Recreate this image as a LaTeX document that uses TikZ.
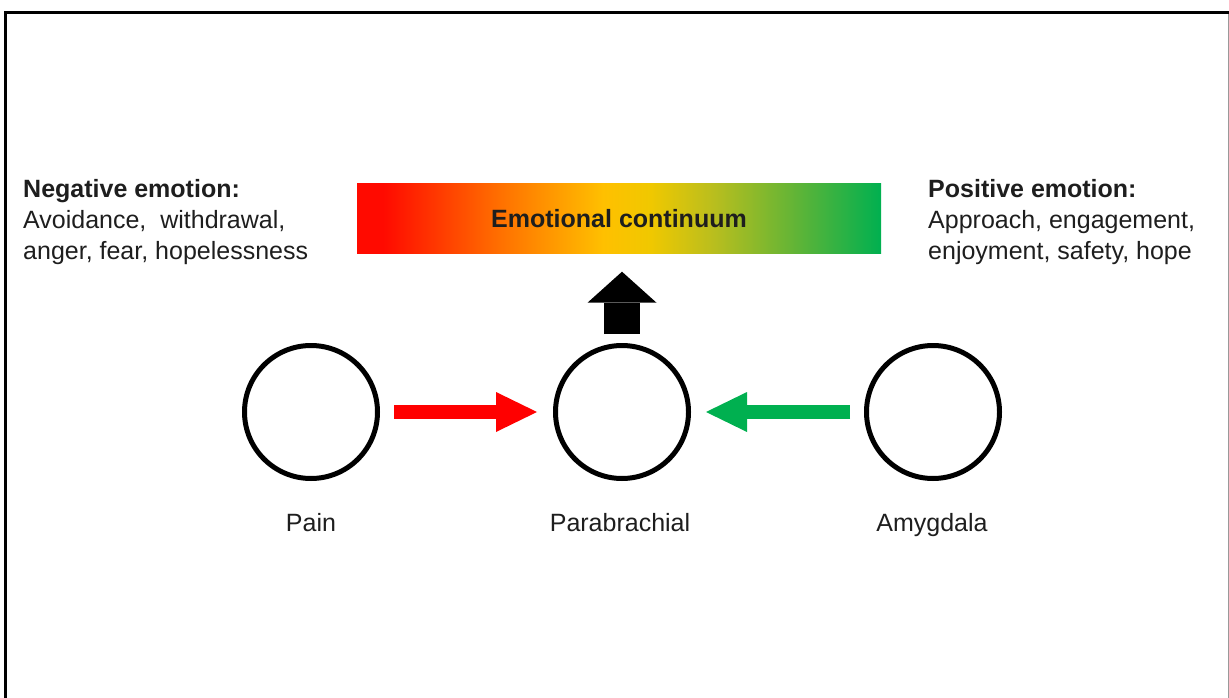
\documentclass[tikz,border=0pt]{standalone}
\usepackage{fontspec}
\setmainfont{Liberation Sans}
\usetikzlibrary{arrows.meta,positioning}
\definecolor{hotred}{HTML}{FF0000}
\definecolor{calmgreen}{HTML}{00B050}
\definecolor{inkgrey}{HTML}{1E1E1E}
\definecolor{cRed}{RGB}{255,10,0}
\definecolor{cOrange}{RGB}{255,115,0}
\definecolor{cAmber}{RGB}{255,192,0}
\definecolor{cYellow}{RGB}{240,200,0}
\definecolor{cOlive}{RGB}{185,190,30}
\definecolor{cLime}{RGB}{95,180,55}
\definecolor{cGreen}{RGB}{0,176,80}
% only the middle half (25bp--75bp) of a declared shading fills the node
\pgfdeclarehorizontalshading{continuum}{100bp}{color(0bp)=(cRed); color(27.5bp)=(cRed);
  color(39bp)=(cOrange); color(48.5bp)=(cAmber); color(53bp)=(cYellow);
  color(59bp)=(cOlive); color(67bp)=(cLime); color(75bp)=(cGreen); color(100bp)=(cGreen)}

\begin{document}
\begin{tikzpicture}[x=1pt,y=-1pt,font=\fontsize{25}{31}\selectfont,text=inkgrey,
  ring/.style={circle,draw=black,line width=5pt,minimum size=133pt,inner sep=0pt},
  side/.style={align=left,inner sep=0pt,anchor=base west},
  lbl/.style={inner sep=0pt,anchor=base},
  push/.style={draw=hotred,line width=14pt,shorten <=14pt,shorten >=16pt,
               -{Triangle[length=41pt,width=40pt,line width=0pt]}},
  pull/.style={push,draw=calmgreen,shorten >=15pt},
  lift/.style={draw=black,line width=36pt,shorten <=9pt,shorten >=18pt,
               -{Triangle[length=31pt,width=69pt,line width=0pt]}}]

\useasboundingbox (0,0) rectangle (1229,698);
% frame of the original screenshot (no bottom edge)
\draw[line width=3pt] (5,698) -- (5,12.5) -- (1229,12.5);
\draw[black!40,line width=1pt] (1228,14) -- (1228,698);

\node[shading=continuum,minimum width=524pt,minimum height=70pt,inner sep=0pt,
      font=\fontsize{25}{30}\selectfont\bfseries] (bar) at (619,218.5) {Emotional continuum};

% base anchor sits on the last line
\node[side] (neg) at (23,259) {\textbf{Negative emotion:}\\
  Avoidance,\ \ withdrawal,\\ anger, fear, hopelessness};
\node[side] (pos) at (928,259) {\textbf{Positive emotion:}\\
  Approach, engagement,\\ enjoyment, safety, hope};

\node[ring] (pain) at (311,412) {};
\node[ring] (para) at (622,412) {};
\node[ring] (amyg) at (933,412) {};

\node[lbl] (painlbl) at (311,531) {Pain};
\node[lbl] (paralbl) at (620,531) {Parabrachial};
\node[lbl] (amyglbl) at (932,531) {Amygdala};

\draw[push] (pain.east) -- (para.west);
\draw[pull] (amyg.west) -- (para.east);
\draw[lift] (para.north) -- (para.north |- bar.south);
\end{tikzpicture}
\end{document}
